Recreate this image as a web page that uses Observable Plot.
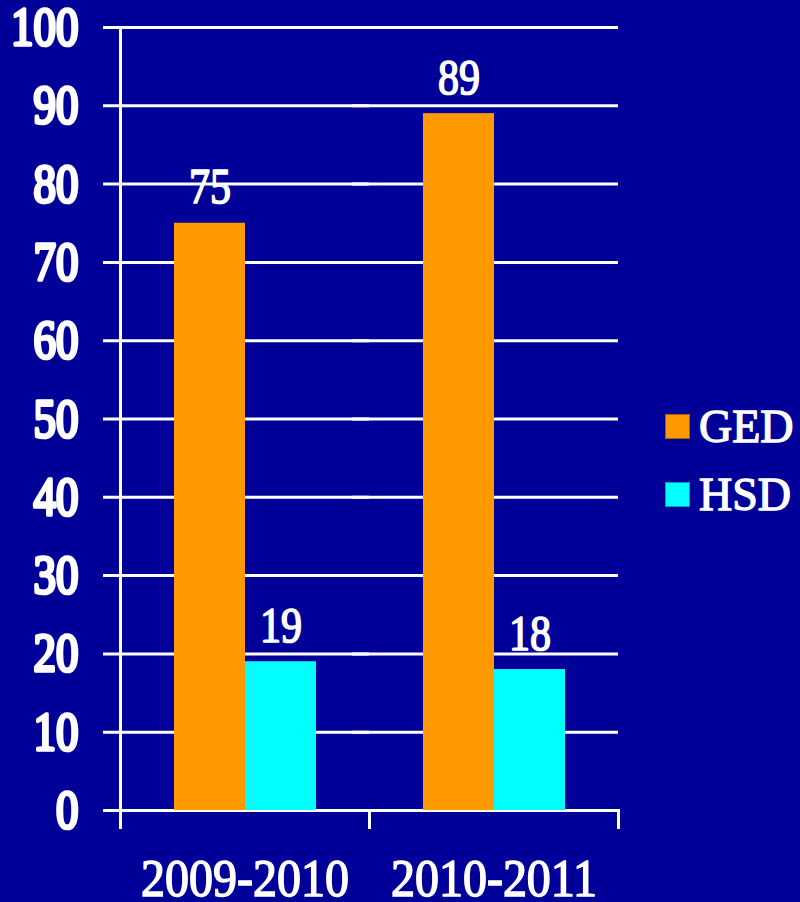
<!DOCTYPE html>
<html>
<head>
<meta charset="utf-8">
<script src="https://cdn.jsdelivr.net/npm/d3@7"></script>
<script src="https://cdn.jsdelivr.net/npm/@observablehq/plot@0.6"></script>
<style>
  html, body { margin: 0; padding: 0; background: #000099; }
  #wrap { position: relative; width: 800px; height: 902px; background: #000099; overflow: hidden; }
  .legend-item { position: absolute; left: 665px; display: flex; align-items: center; }
  .swatch { width: 25px; height: 25px; box-sizing: border-box; border: 1px solid rgba(0,0,0,0.35); }
  .legend-label { margin-left: 9px; font-family: "Liberation Serif", serif; font-weight: normal; font-size: 46px; line-height: 1; color: white; -webkit-text-stroke: 1.3px white; }
</style>
</head>
<body>
<div id="wrap"></div>
<script>
// ---- data ----
const categories = ["2009-2010", "2010-2011"];
const seriesNames = ["GED", "HSD"];
const gedValues = [75, 89];
const hsdValues = [19, 18];
const yTicks = [0, 10, 20, 30, 40, 50, 60, 70, 80, 90, 100];
const seriesColors = ["#FF9900", "#00FFFF"];

const data = categories.flatMap((c, i) => [
  {year: c, series: seriesNames[0], value: gedValues[i]},
  {year: c, series: seriesNames[1], value: hsdValues[i]}
]);

const W = 800, H = 902, mTop = 27, mBottom = 92, mLeft = 120, mRight = 182;
const plotH = H - mTop - mBottom;
const line = {stroke: "white", strokeWidth: 3};
const textStroke = {stroke: "white", strokeWidth: 1.4};

const chart = Plot.plot({
  width: W,
  height: H,
  marginTop: mTop,
  marginBottom: mBottom,
  marginLeft: mLeft,
  marginRight: mRight,
  style: {background: "#000099", color: "white", fontFamily: "'Liberation Serif', serif", fontWeight: "normal", overflow: "visible"},
  fx: {domain: categories, padding: 0, label: null, axis: null},
  x: {domain: seriesNames, paddingInner: 0, paddingOuter: 0.75, axis: null},
  y: {domain: [0, 100], axis: null},
  color: {domain: seriesNames, range: seriesColors},
  marks: [
    Plot.ruleY(yTicks, {...line, insetLeft: -17}),
    Plot.frame({anchor: "left", facetAnchor: "left", ...line, insetBottom: -17}),
    Plot.frame({anchor: "left", facetAnchor: "right", ...line, insetTop: plotH, insetBottom: -17}),
    Plot.frame({anchor: "right", facetAnchor: "right", ...line, insetTop: plotH, insetBottom: -17}),
    Plot.axisY({ticks: yTicks, tickSize: 0, tickPadding: 42, fontSize: 45, label: null, fill: "white", textStroke: "white", ...{}}),
    Plot.axisFx({anchor: "bottom", tickSize: 0, tickPadding: 49, fontSize: 48, label: null, fill: "white"}),
    Plot.barY(data, {fx: "year", x: "series", y: "value", fill: "series"}),
    Plot.text(data, {fx: "year", x: "series", y: "value", text: d => String(d.value), lineAnchor: "bottom", dy: -20, fontSize: 42, fill: "white", ...textStroke})
  ]
});

// vertical stretch and slight thickening of the text, as in the original slide rendering
const stretch = {"y-axis tick label": 1.22, "fx-axis tick label": 1.08, "text": 1.23};
d3.select(chart).selectAll("g[aria-label]").each(function () {
  const s = stretch[this.getAttribute("aria-label")];
  if (!s) return;
  d3.select(this).attr("stroke", "white").attr("stroke-width", 1.4);
  d3.select(this).selectAll("text").each(function () {
    const t = this.getAttribute("transform");
    if (t) this.setAttribute("transform", t + ` scale(1,${s})`);
  });
});

const wrap = document.getElementById("wrap");
wrap.appendChild(chart);

// legend
const legendTops = [414, 482];
seriesNames.forEach((name, i) => {
  const item = document.createElement("div");
  item.className = "legend-item";
  item.style.top = (legendTops[i] - 10) + "px";
  item.style.height = "45px";
  const sw = document.createElement("div");
  sw.className = "swatch";
  sw.style.background = seriesColors[i];
  const lb = document.createElement("span");
  lb.className = "legend-label";
  lb.textContent = name;
  item.appendChild(sw);
  item.appendChild(lb);
  wrap.appendChild(item);
});
</script>
</body>
</html>
